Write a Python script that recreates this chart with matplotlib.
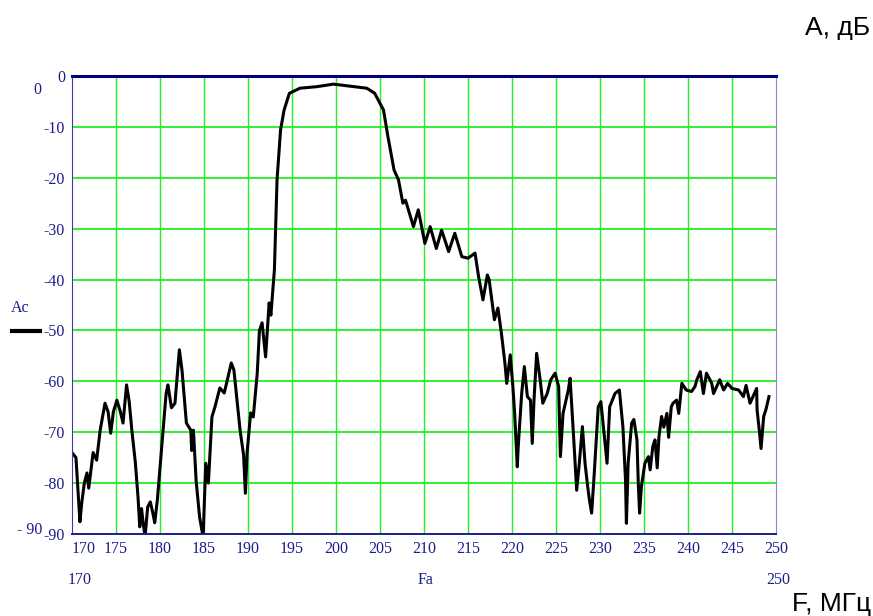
import numpy as np
import matplotlib
matplotlib.use('Agg')
import matplotlib.pyplot as plt

# frequency response
freq = [170.0, 170.45, 170.9, 171.1, 171.4, 171.7, 171.9, 172.4, 172.8, 173.2, 173.75, 174.1, 174.4,
        174.7, 175.1, 175.5, 175.8, 176.2, 176.5, 176.8, 177.2, 177.5, 177.7, 177.9, 178.1, 178.3,
        178.6, 178.9, 179.2, 179.4, 179.7, 180.2, 180.7, 180.9, 181.3, 181.7, 182.2, 182.5, 183.0,
        183.5, 183.6, 183.8, 184.1, 184.5, 184.9, 185.2, 185.5, 185.9, 186.25, 186.8, 187.3, 188.1,
        188.4, 189.1, 189.5, 189.7, 189.9, 190.3, 190.6, 191.05, 191.3, 191.6, 192.0, 192.4, 192.6,
        193.0, 193.3, 193.7, 194.1, 194.7, 195.9, 197.8, 199.7, 201.6, 203.5, 204.4, 205.4, 205.9,
        206.6, 207.1, 207.6, 207.9, 208.8, 209.35, 210.1, 210.7, 211.4, 212.0, 212.8, 213.5, 214.3,
        215.0, 215.8, 216.2, 216.7, 217.2, 217.4, 218.0, 218.4, 218.8, 219.2, 219.4, 219.8, 220.1,
        220.3, 220.6, 220.7, 221.1, 221.4, 221.75, 222.1, 222.3, 222.5, 222.8, 223.2, 223.5, 224.0,
        224.4, 224.9, 225.3, 225.5, 225.8, 226.4, 226.6, 227.0, 227.35, 227.65, 228.0, 228.3, 228.6,
        228.8, 229.05, 229.3, 229.8, 230.1, 230.6, 230.8, 231.1, 231.7, 232.2, 232.6, 232.9, 233.0,
        233.2, 233.6, 233.85, 234.2, 234.35, 234.5, 234.7, 235.1, 235.5, 235.7, 236.0, 236.25, 236.5,
        236.7, 237.0, 237.25, 237.6, 237.8, 238.1, 238.3, 238.7, 238.95, 239.3, 239.8, 240.4, 240.8,
        241.0, 241.4, 241.75, 242.1, 242.7, 242.9, 243.6, 244.05, 244.5, 245.0, 245.75, 246.3, 246.6,
        247.05, 247.8, 247.85, 248.1, 248.3, 248.6, 248.85, 249.2]
amp = [-74, -75, -87.6, -84, -80, -78, -81, -74, -75.5, -69.6, -64.3, -66, -70.2,
       -66, -63.7, -66, -68.2, -60.7, -64, -69.6, -76, -82.7, -88.6, -85, -88, -90.6,
       -84.7, -83.7, -86, -87.8, -83.3, -72.8, -62.3, -60.7, -65.2, -64.3, -53.8, -57.8, -68.2,
       -69.6, -73.6, -69.6, -79.4, -86.7, -90.6, -76.1, -80, -67, -65, -61.3, -62.3, -56.4,
       -57.8, -69.6, -74.5, -82, -74, -66.2, -67, -58.4, -50, -48.5, -55.2, -44.6, -47,
       -38.1, -20.4, -10.6, -6.7, -3.4, -2.4, -2.1, -1.6, -2.0, -2.4, -3.4, -6.7, -11.9,
       -18.5, -20.4, -25, -24.4, -29.6, -26.3, -32.9, -29.6, -33.9, -30.3, -34.5, -30.9, -35.5,
       -35.8, -34.8, -39.4, -44, -39.1, -40, -47.9, -45.6, -50.6, -56.5, -60.4, -54.8, -61,
       -66.3, -76.8, -73, -62.4, -57.1, -63, -63.7, -72.2, -63.7, -54.5, -59.7, -64.3, -62.4,
       -59.7, -58.4, -61, -74.8, -66.3, -61.7, -59.4, -70.9, -81.4, -76.1, -68.9, -76.1, -80.7,
       -83.3, -85.9, -79.4, -65, -64, -72.8, -76.1, -65, -62.4, -61.7, -68.9, -79.4, -87.9,
       -76, -68.2, -67.5, -71.5, -80, -85.9, -80.7, -76.1, -74.8, -77.4, -72.8, -71.5, -77,
       -70.9, -66.9, -69, -66.3, -71, -65, -64.3, -63.7, -66.3, -60.4, -61.7, -62, -61,
       -59.7, -58.1, -62.4, -58.4, -60.4, -62.4, -59.7, -61.7, -60.4, -61.4, -61.7, -63, -60.8,
       -64.3, -61.4, -65.6, -69.6, -73.2, -66.9, -65.6, -63]

x_ticks = list(range(170, 251, 5))
y_ticks = list(range(0, -91, -10))

navy = '#1c1c8c'
grid_green = '#22ee22'
serif = 'Liberation Serif'

fig = plt.figure(figsize=(8.73, 6.16), dpi=100)
ax = fig.add_axes([72 / 873, 1 - 534 / 616, 704 / 873, 458 / 616])

ax.plot(freq, amp, color='black', lw=2.2, solid_joinstyle='round')

ax.set_xlim(170, 250)
ax.set_ylim(-90, 0)
ax.set_xticks(x_ticks)
ax.set_yticks(y_ticks)
ax.set_xticklabels([str(v) for v in x_ticks], fontfamily=serif, fontsize=11.5, color=navy)
ax.set_yticklabels(['0'] + ['-%d' % -v for v in y_ticks[1:]], fontfamily=serif, fontsize=11.5, color=navy)
ax.tick_params(length=0, pad=5)
ax.xaxis.get_ticklabels()[0].set_horizontalalignment('left')

for v in x_ticks[1:-1]:
    ax.axvline(v, color=grid_green, lw=1.0, zorder=0)
for v in y_ticks[1:-1]:
    ax.axhline(v, color=grid_green, lw=1.3, zorder=0)

ax.spines['top'].set_color('#000080')
ax.spines['top'].set_linewidth(2.2)
ax.spines['left'].set_color('#3a3aa8')
ax.spines['bottom'].set_color('#1c1c8c')
ax.spines['bottom'].set_linewidth(1.4)
ax.spines['right'].set_color('#8888d0')

# Mathcad-style extra labels around the plot
fig.text(37 / 873, 1 - 90 / 616, '0', fontfamily=serif, fontsize=11.5, color=navy, ha='center', va='center')
fig.text(30 / 873, 1 - 530 / 616, '- 90', fontfamily=serif, fontsize=11.5, color=navy, ha='center', va='center')
fig.text(80 / 873, 1 - 580 / 616, '170', fontfamily=serif, fontsize=11.5, color=navy, ha='center', va='center')
fig.text(778 / 873, 1 - 580 / 616, '250', fontfamily=serif, fontsize=11.5, color=navy, ha='center', va='center')
fig.text(426 / 873, 1 - 580 / 616, 'Fa', fontfamily=serif, fontsize=11.5, color=navy, ha='center', va='center')
fig.text(20 / 873, 1 - 308 / 616, 'Ac', fontfamily=serif, fontsize=11.5, color=navy, ha='center', va='center')
fig.add_artist(plt.Line2D([12 / 873, 40 / 873], [1 - 331 / 616, 1 - 331 / 616], color='black', lw=3))

fig.text(870 / 873, 1 - 35 / 616, 'A, дБ', fontfamily='Liberation Sans', fontsize=19, color='black',
         ha='right', va='baseline')
fig.text(871 / 873, 1 - 611 / 616, 'F, МГц', fontfamily='Liberation Sans', fontsize=19, color='black',
         ha='right', va='baseline')

fig.savefig('out.png', dpi=100)
